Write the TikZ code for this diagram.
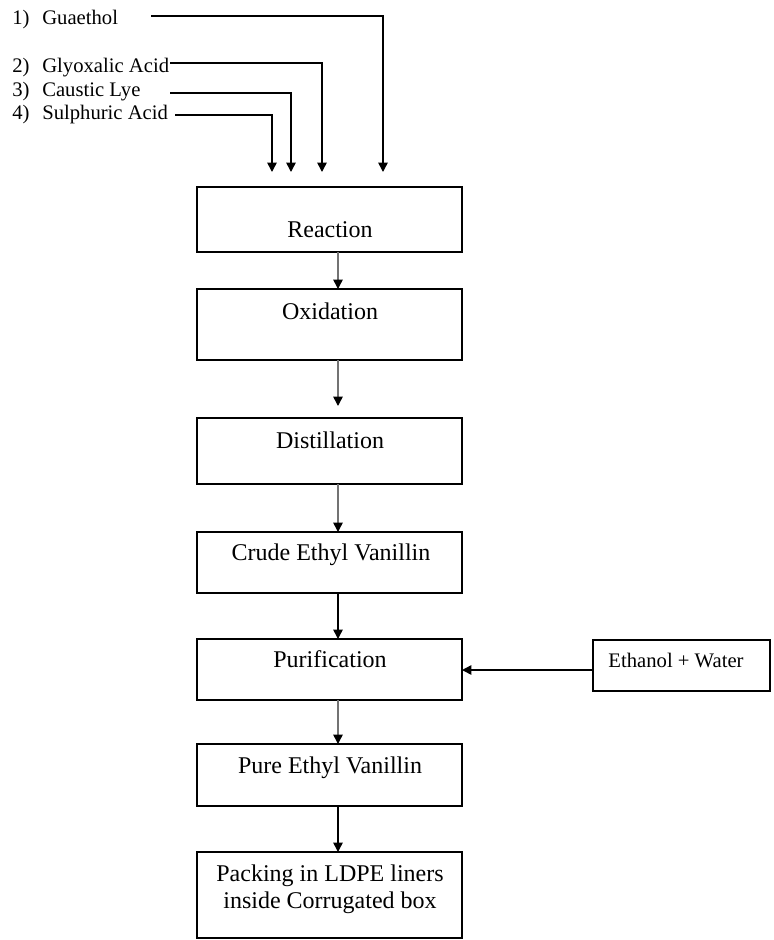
\documentclass[tikz,border=0pt]{standalone}
\usepackage{fontspec}
\setmainfont{Liberation Serif}
\usetikzlibrary{arrows.meta}
\tikzset{
  box/.style={draw, line width=1.1pt, minimum width=265*0.75pt, inner sep=0pt, outer sep=0pt},
  big/.style={anchor=base, inner sep=0pt, font=\fontsize{18}{21}\selectfont},
  small/.style={anchor=base west, inner sep=0pt, font=\fontsize{15.5}{18}\selectfont},
  arr/.style={line width=1.1pt, -{Triangle[width=7pt,length=7pt,color=black]}},
  garr/.style={arr, draw=black!55},
}
\begin{document}
\begin{tikzpicture}[x=0.75pt,y=-0.75pt]
\useasboundingbox (0,0) rectangle (774,940);
% input labels
\node[small] (n1) at (12,24) {1)};
\node[small] (l1) at (42,24) {Guaethol};
\node[small] (n2) at (12,72) {2)};
\node[small] (l2) at (42,72) {Glyoxalic Acid};
\node[small] (n3) at (12,96) {3)};
\node[small] (l3) at (42,96) {Caustic Lye};
\node[small] (n4) at (12,119) {4)};
\node[small] (l4) at (42,119) {Sulphuric Acid};
\coordinate (s1) at (151,16);
\coordinate (s2) at (170,63);
\coordinate (s3) at (170,93);
\coordinate (s4) at (175,115);
\coordinate (e1) at (383,172);
\coordinate (e2) at (322,172);
\coordinate (e3) at (291,172);
\coordinate (e4) at (272,172);
\draw[arr] (s1) -| (e1);
\draw[arr] (s2) -| (e2);
\draw[arr] (s3) -| (e3);
\draw[arr] (s4) -| (e4);
% boxes
\node[box, minimum height=65*0.75pt] (b1) at (329.5,219.5) {};
\node[box, minimum height=71*0.75pt] (b2) at (329.5,324.5) {};
\node[box, minimum height=66*0.75pt] (b3) at (329.5,451) {};
\node[box, minimum height=61*0.75pt] (b4) at (329.5,562.5) {};
\node[box, minimum height=61*0.75pt] (b5) at (329.5,669.5) {};
\node[box, minimum height=62*0.75pt] (b6) at (329.5,775) {};
\node[box, minimum height=86*0.75pt] (b7) at (329.5,895) {};
\node[box, minimum width=177*0.75pt, minimum height=51*0.75pt] (eth) at (681.5,665.5) {};
% box texts
\node[big] (t1) at (330,237) {Reaction};
\node[big] (t2) at (330,319) {Oxidation};
\node[big] (t3) at (330,448) {Distillation};
\node[big] (t4) at (331,560) {Crude Ethyl Vanillin};
\node[big] (t5) at (330,667) {Purification};
\node[big] (t6) at (330,773) {Pure Ethyl Vanillin};
\node[big] (t7a) at (330,881) {Packing in LDPE liners};
\node[big] (t7b) at (330,908) {inside Corrugated box};
\node[anchor=base, inner sep=0pt, font=\fontsize{15.5}{18}\selectfont] (te) at (676,667) {Ethanol + Water};
% flow arrows
\draw[garr] ([xshift=8.5*0.75pt]b1.south) -- ([xshift=8.5*0.75pt]b2.north);
\draw[garr, shorten >=9pt] ([xshift=8.5*0.75pt]b2.south) -- ([xshift=8.5*0.75pt]b3.north);
\draw[garr] ([xshift=8.5*0.75pt]b3.south) -- ([xshift=8.5*0.75pt]b4.north);
\draw[arr] ([xshift=8.5*0.75pt]b4.south) -- ([xshift=8.5*0.75pt]b5.north);
\draw[garr] ([xshift=8.5*0.75pt]b5.south) -- ([xshift=8.5*0.75pt]b6.north);
\draw[arr] ([xshift=8.5*0.75pt]b6.south) -- ([xshift=8.5*0.75pt]b7.north);
\draw[arr] ([yshift=-4.5*0.75pt]eth.west) -- ([yshift=-4.5*0.75pt]eth.west -| b5.east);
\end{tikzpicture}
\end{document}
